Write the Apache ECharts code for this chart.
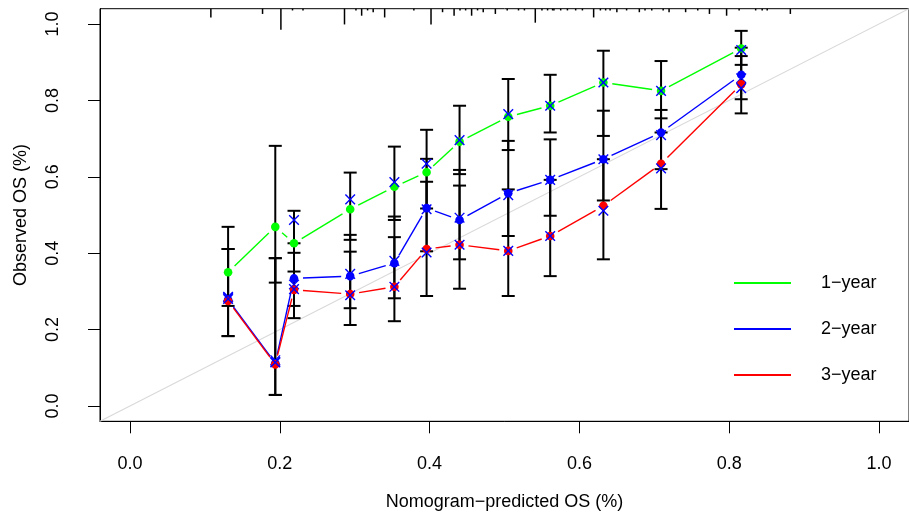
<!DOCTYPE html>
<html><head><meta charset="utf-8">
<script src="https://cdn.jsdelivr.net/npm/echarts@6/dist/echarts.min.js"></script>
<style>html,body{margin:0;padding:0;background:#fff}#c{width:909px;height:519px}</style>
</head><body><div id="c"></div>
<script>
// ---- data ----
const seriesNames = ['1−year', '2−year', '3−year'];
const predicted = [0.131, 0.194, 0.219, 0.294, 0.353, 0.396, 0.440, 0.505, 0.561, 0.632, 0.709, 0.816];

const observed1  = [0.350, 0.469, 0.426, 0.515, 0.574, 0.612, 0.692, 0.757, 0.786, 0.847, 0.825, 0.936];
const corrected1 = [0.284, 0.116, 0.487, 0.541, 0.586, 0.634, 0.696, 0.764, 0.786, 0.847, 0.825, 0.932];
const lower1     = [0.262, 0.323, 0.352, 0.435, 0.487, 0.517, 0.607, 0.670, 0.716, 0.707, 0.753, 0.893];
const upper1     = [0.469, 0.681, 0.511, 0.611, 0.679, 0.723, 0.786, 0.856, 0.867, 0.930, 0.903, 0.982];

const observed2  = [0.278, 0.112, 0.334, 0.340, 0.374, 0.518, 0.487, 0.557, 0.592, 0.646, 0.716, 0.867];
const corrected2 = [0.286, 0.120, 0.318, 0.346, 0.380, 0.515, 0.493, 0.552, 0.592, 0.646, 0.709, 0.858];
const lower2     = [0.183, 0.029, 0.262, 0.256, 0.282, 0.405, 0.384, 0.445, 0.498, 0.538, 0.620, 0.803];
const upper2     = [0.411, 0.387, 0.426, 0.448, 0.496, 0.647, 0.618, 0.694, 0.698, 0.773, 0.775, 0.938];

const observed3  = [0.275, 0.109, 0.304, 0.293, 0.312, 0.411, 0.422, 0.406, 0.445, 0.524, 0.634, 0.842];
const corrected3 = [0.280, 0.114, 0.306, 0.290, 0.312, 0.402, 0.422, 0.406, 0.445, 0.511, 0.622, 0.832];
const lower3     = [0.183, 0.029, 0.230, 0.212, 0.222, 0.288, 0.307, 0.288, 0.340, 0.384, 0.516, 0.766];
const upper3     = [0.411, 0.387, 0.401, 0.404, 0.442, 0.587, 0.577, 0.567, 0.592, 0.646, 0.716, 0.916];

// distribution of predicted values (rug at the top): value and relative frequency
const rugValues = [0.108, 0.177, 0.2015, 0.217, 0.231, 0.2864, 0.3017, 0.3093, 0.3172, 0.3247, 0.340, 0.379,
  0.4019, 0.4173, 0.4327, 0.4406, 0.4481, 0.4561, 0.464, 0.4716, 0.4878, 0.5036, 0.5187, 0.5266, 0.5411,
  0.550, 0.5575, 0.5642, 0.566, 0.575, 0.584, 0.595, 0.604, 0.619, 0.628, 0.635, 0.641, 0.650, 0.663,
  0.680, 0.6876, 0.6966, 0.7118, 0.7197, 0.7418, 0.758, 0.7736, 0.7965, 0.8132, 0.8353, 0.844, 0.8507, 0.8816];
const rugCounts = [5, 3, 12, 1, 1, 9, 1, 4, 1, 2, 5, 1,
  9, 2, 4, 1, 1, 4, 1, 2, 3, 1, 1, 1, 8,
  1, 1, 1, 1, 1, 1, 1, 1, 5, 1, 1, 1, 2, 1,
  2, 1, 1, 1, 2, 2, 1, 3, 4, 1, 1, 1, 1, 3];

const tickValues = [0, 0.2, 0.4, 0.6, 0.8, 1.0];
const axisMin = -0.04, axisMax = 1.04;
const colors = ['#00FF00', '#0000FF', '#FF0000'];

// ---- chart ----
const FONT = '"Liberation Sans", Arial, Helvetica, sans-serif';
const FS = 18;
const chart = echarts.init(document.getElementById('c'), null, {renderer: 'canvas'});

const years = [
  {obs: observed1, cor: corrected1, lo: lower1, hi: upper1},
  {obs: observed2, cor: corrected2, lo: lower2, hi: upper2},
  {obs: observed3, cor: corrected3, lo: lower3, hi: upper3}
];

const errData = [];
years.forEach(yr => predicted.forEach((p, i) => errData.push([p, yr.lo[i], yr.hi[i]])));

function errRender(params, api) {
  const x = api.value(0);
  const a = api.coord([x, api.value(1)]);
  const b = api.coord([x, api.value(2)]);
  const w = 6.5;
  const st = {stroke: '#000', lineWidth: 2};
  return {type: 'group', children: [
    {type: 'line', shape: {x1: a[0], y1: a[1], x2: b[0], y2: b[1]}, style: st},
    {type: 'line', shape: {x1: a[0] - w, y1: a[1], x2: a[0] + w, y2: a[1]}, style: st},
    {type: 'line', shape: {x1: b[0] - w, y1: b[1], x2: b[0] + w, y2: b[1]}, style: st}
  ]};
}

function yearRender(color) {
  return function (params, api) {
    const p = api.coord([api.value(0), api.value(1)]);
    const q = api.coord([api.value(3), api.value(4)]);
    const k = api.coord([api.value(0), api.value(2)]);
    const children = [];
    const gap = 9;
    const dx = q[0] - p[0], dy = q[1] - p[1], d = Math.hypot(dx, dy);
    if (d > 2 * gap) {
      const ux = dx / d, uy = dy / d;
      children.push({type: 'line', shape: {x1: p[0] + ux * gap, y1: p[1] + uy * gap, x2: q[0] - ux * gap, y2: q[1] - uy * gap},
        style: {stroke: color, lineWidth: 1.4}});
    }
    children.push({type: 'circle', shape: {cx: p[0], cy: p[1], r: 4.3}, style: {fill: color}});
    const s = 4.8;
    const xs = {stroke: '#0000FF', lineWidth: 1.4};
    children.push({type: 'line', shape: {x1: k[0] - s, y1: k[1] - s, x2: k[0] + s, y2: k[1] + s}, style: xs});
    children.push({type: 'line', shape: {x1: k[0] - s, y1: k[1] + s, x2: k[0] + s, y2: k[1] - s}, style: xs});
    return {type: 'group', children};
  };
}

function rugRender(params, api) {
  const top = api.coord([api.value(0), axisMax]);
  const len = api.value(1) * 1.75;
  return {type: 'line', shape: {x1: top[0], y1: top[1], x2: top[0], y2: top[1] + len},
    style: {stroke: '#000', lineWidth: 1.5}};
}

const series = [
  {type: 'line', name: 'diag', silent: true, symbol: 'none', data: [[axisMin, axisMin], [axisMax, axisMax]],
    lineStyle: {color: '#D9D9D9', width: 1.2}, z: 1},
  {type: 'custom', name: 'rug', renderItem: rugRender, data: rugValues.map((v, i) => [v, rugCounts[i]]), z: 2, silent: true},
  {type: 'custom', name: 'err', renderItem: errRender, data: errData, z: 3, silent: true}
];
years.forEach((yr, j) => {
  series.push({
    type: 'custom', name: seriesNames[j], renderItem: yearRender(colors[j]), z: 4 + j,
    itemStyle: {color: colors[j]},
    data: predicted.map((p, i) => {
      const n = Math.min(i + 1, predicted.length - 1);
      return [p, yr.obs[i], yr.cor[i], predicted[n], yr.obs[n]];
    })
  });
});

chart.setOption({
  animation: false,
  backgroundColor: '#fff',
  grid: {left: 100, top: 8.7, width: 816.5, height: 412.6, show: true, borderColor: '#000', borderWidth: 1},
  xAxis: {
    type: 'value', min: axisMin, max: axisMax,
    splitLine: {show: false},
    axisLine: {show: true, onZero: false, lineStyle: {color: '#000', width: 1}},
    axisTick: {show: true, length: 12, customValues: tickValues, lineStyle: {color: '#000', width: 1}},
    axisLabel: {customValues: tickValues, formatter: v => v.toFixed(1), margin: 34,
      color: '#000', fontFamily: FONT, fontSize: FS},
    name: 'Nomogram−predicted OS (%)', nameLocation: 'middle', nameGap: 72,
    nameTextStyle: {color: '#000', fontFamily: FONT, fontSize: FS}
  },
  yAxis: {
    type: 'value', min: axisMin, max: axisMax,
    splitLine: {show: false},
    axisLine: {show: true, onZero: false, lineStyle: {color: '#000', width: 1}},
    axisTick: {show: true, length: 12, customValues: tickValues, lineStyle: {color: '#000', width: 1}},
    axisLabel: {customValues: tickValues, formatter: v => v.toFixed(1), margin: 38, rotate: 90,
      color: '#000', fontFamily: FONT, fontSize: FS},
    name: 'Observed OS (%)', nameLocation: 'middle', nameGap: 70, nameRotate: 90,
    nameTextStyle: {color: '#000', fontFamily: FONT, fontSize: FS}
  },
  legend: {
    data: seriesNames.map(n => ({name: n, icon: 'rect'})),
    orient: 'vertical', left: 729, top: 269,
    itemWidth: 57, itemHeight: 2, itemGap: 28,
    textStyle: {color: '#000', fontFamily: FONT, fontSize: FS, padding: [0, 0, 0, 25]}
  },
  series
});
</script></body></html>
